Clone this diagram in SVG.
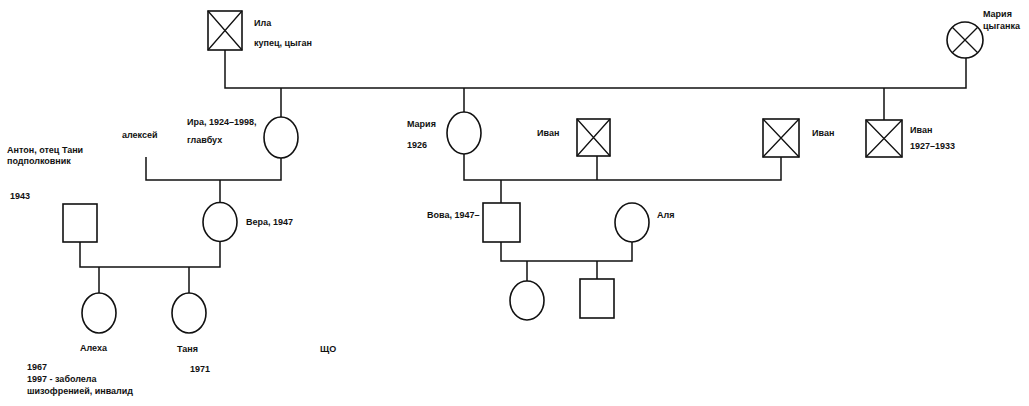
<svg xmlns="http://www.w3.org/2000/svg" width="1029" height="406" viewBox="0 0 1029 406">
<style>
.s{fill:#fff;stroke:#111;stroke-width:1.6}
.x{stroke:#111;stroke-width:1.3;fill:none}
.c path,.c line{stroke:#111;stroke-width:1.5;fill:none}
text{font-family:"Liberation Sans Narrow","Liberation Sans",Arial,sans-serif;font-size:9px;font-weight:bold;fill:#111}
</style>
<rect width="1029" height="406" fill="#fff"/>
<g id="connectors" class="c">
<path d="M225 50V88H966V58"/>
<path d="M281 88V117M464 88V112M884 88V120"/>
<path d="M146 157V180H281V158M220 180V203"/>
<path d="M464 154V180H781V157M597 156V180M501 180V203"/>
<path d="M80 242V267H220V241M99 267V293M189 267V293"/>
<path d="M501 242V261H632V242M527 261V281M597 261V279"/>
</g>
<g id="n-ila"><rect class="s" x="208" y="11" width="34" height="39"/><path class="x" d="M208 11L242 50M242 11L208 50"/><text x="254" y="26">Ила</text><text x="254" y="46">купец, цыган</text></g>
<g id="n-maria-top"><circle class="s" cx="965" cy="40" r="18"/><path class="x" d="M952.3 27.3L977.7 52.7M977.7 27.3L952.3 52.7"/><text x="983" y="17">Мария</text><text x="983" y="29">цыганка</text></g>
<g id="n-ira"><ellipse class="s" cx="281" cy="137.5" rx="17" ry="20.5"/><text x="187" y="125">Ира, 1924–1998,</text><text x="187" y="143">главбух</text></g>
<g id="n-aleksey"><text x="122" y="138">алексей</text></g>
<g id="n-maria"><ellipse class="s" cx="464" cy="133" rx="17" ry="21"/><text x="407" y="127">Мария</text><text x="407" y="148">1926</text></g>
<g id="n-ivan1"><rect class="s" x="577" y="119" width="33" height="37"/><path class="x" d="M577 119L610 156M610 119L577 156"/><text x="537" y="136">Иван</text></g>
<g id="n-ivan2"><rect class="s" x="763" y="119" width="36" height="38"/><path class="x" d="M763 119L799 157M799 119L763 157"/><text x="812" y="136">Иван</text></g>
<g id="n-ivan3"><rect class="s" x="866" y="120" width="36" height="37"/><path class="x" d="M866 120L902 157M902 120L866 157"/><text x="910" y="133">Иван</text><text x="910" y="149">1927–1933</text></g>
<g id="n-anton"><rect class="s" x="63" y="204" width="34" height="38"/><text x="7" y="153">Антон, отец Тани</text><text x="7" y="164">подполковник</text><text x="10" y="199">1943</text></g>
<g id="n-vera"><ellipse class="s" cx="220" cy="222" rx="17" ry="19.5"/><text x="246" y="225">Вера, 1947</text></g>
<g id="n-vova"><rect class="s" x="483" y="203" width="37" height="39"/><text x="427" y="218">Вова, 1947–</text></g>
<g id="n-alya"><ellipse class="s" cx="632" cy="222.5" rx="17" ry="19.5"/><text x="657" y="218">Аля</text></g>
<g id="n-aleha"><ellipse class="s" cx="99" cy="313" rx="17" ry="20"/><text x="80" y="351">Алеха</text><text x="27" y="370">1967</text><text x="27" y="382">1997 - заболела</text><text x="27" y="394">шизофренией, инвалид</text></g>
<g id="n-tanya"><ellipse class="s" cx="189" cy="313" rx="17" ry="20"/><text x="177" y="352">Таня</text><text x="190" y="372">1971</text></g>
<g id="n-scho"><text x="320" y="352">ЩО</text></g>
<g id="n-child1"><ellipse class="s" cx="527" cy="300.5" rx="17" ry="19.5"/></g>
<g id="n-child2"><rect class="s" x="580" y="279" width="34" height="39"/></g>
</svg>
